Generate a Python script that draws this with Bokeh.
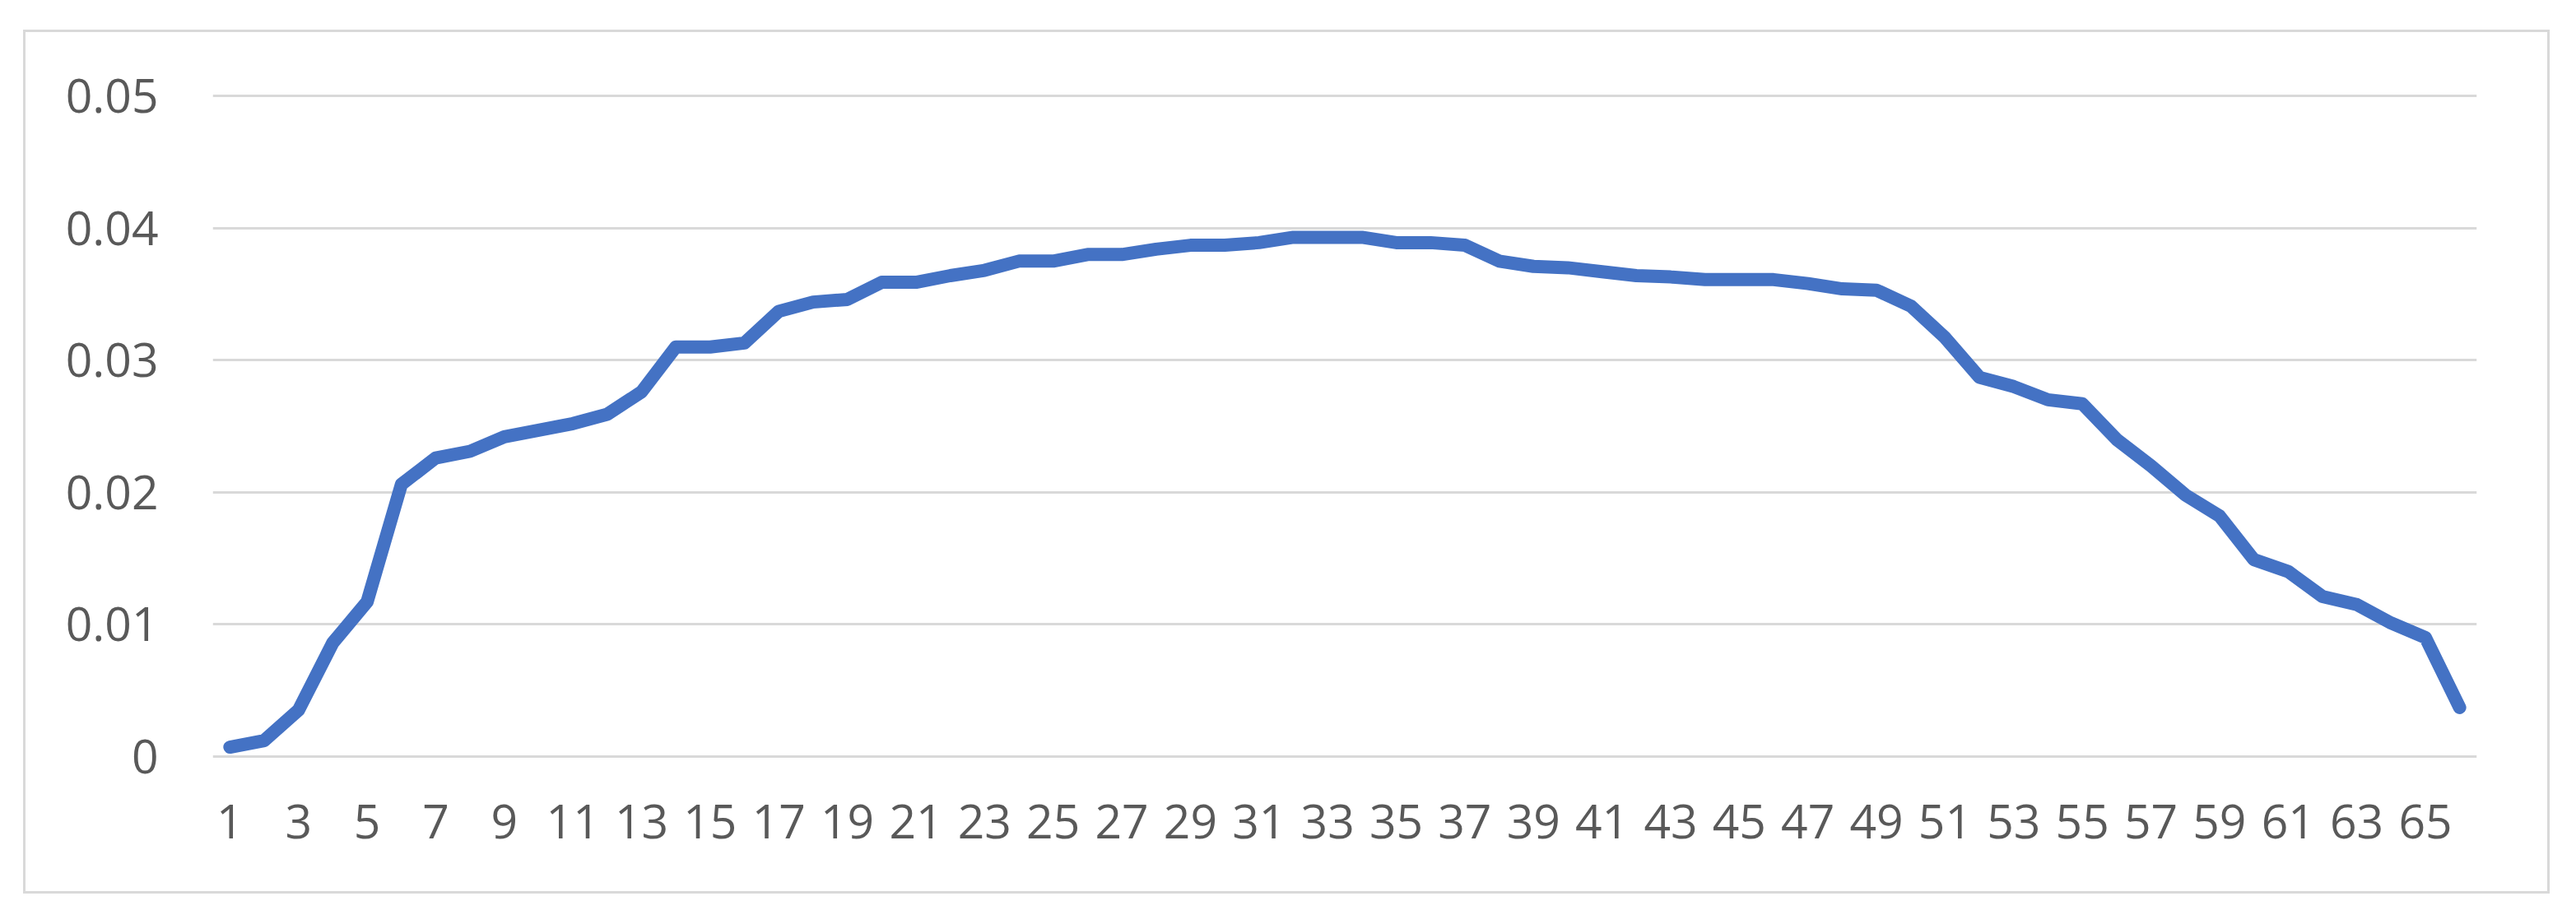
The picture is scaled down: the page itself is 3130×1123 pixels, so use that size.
from bokeh.plotting import figure
from bokeh.models import Range1d, FixedTicker
from bokeh.embed import file_html
from bokeh.resources import INLINE

categories = [str(i) for i in range(1, 67)]
values = [
    0.0007, 0.0012, 0.0035, 0.0086, 0.0117, 0.0206, 0.0226, 0.0231, 0.0242, 0.0247,
    0.0252, 0.0259, 0.0276, 0.0310, 0.0310, 0.0313, 0.0337, 0.0344, 0.0346, 0.0359,
    0.0359, 0.0364, 0.0368, 0.0375, 0.0375, 0.0380, 0.0380, 0.0384, 0.0387, 0.0387,
    0.0389, 0.0393, 0.0393, 0.0393, 0.0389, 0.0389, 0.0387, 0.0375, 0.0371, 0.0370,
    0.0367, 0.0364, 0.0363, 0.0361, 0.0361, 0.0361, 0.0358, 0.0354, 0.0353, 0.0341,
    0.0317, 0.0287, 0.0280, 0.0270, 0.0267, 0.0240, 0.0220, 0.0198, 0.0182, 0.0149,
    0.0140, 0.0121, 0.0115, 0.0101, 0.0090, 0.0037,
]
y_ticks = [0, 0.01, 0.02, 0.03, 0.04, 0.05]
y_tick_labels = ["0", "0.01", "0.02", "0.03", "0.04", "0.05"]
x_tick_labels = [c for c in categories if int(c) % 2 == 1]

x_pos = [int(c) for c in categories]
x_ticks = [int(c) for c in x_tick_labels]

FONT = "Open Sans"
TXT = "#595959"
GRID = "#D9D9D9"

pad = 0.0002
p = figure(
    width=3070, height=1050,
    x_range=Range1d(0.5, len(categories) + 0.5),
    y_range=Range1d(-pad, 0.05 + pad),
    output_backend="svg", toolbar_location=None,
    min_border_left=227, min_border_right=92,
    min_border_top=74, min_border_bottom=167,
)
p.styles = {"margin-left": "28px", "margin-top": "36px",
            "border": "3px solid #D9D9D9"}
p.outline_line_color = None
p.background_fill_color = "white"
p.border_fill_color = "white"

p.line(x=x_pos, y=values, line_color="#4472C4", line_width=16,
       line_join="round", line_cap="round")

p.xgrid.grid_line_color = None
p.ygrid.grid_line_color = GRID
p.ygrid.grid_line_width = 3
p.yaxis.ticker = FixedTicker(ticks=y_ticks)
p.yaxis.major_label_overrides = dict(zip(y_ticks, y_tick_labels))
p.xaxis.ticker = FixedTicker(ticks=x_ticks)
p.xaxis.major_label_overrides = dict(zip(x_ticks, x_tick_labels))

for ax in (p.xaxis[0], p.yaxis[0]):
    ax.axis_line_color = None
    ax.major_tick_line_color = None
    ax.minor_tick_line_color = None
    ax.major_tick_in = 0
    ax.major_tick_out = 0
    ax.major_label_text_font = FONT
    ax.major_label_text_font_size = "57px"
    ax.major_label_text_color = TXT

p.yaxis.major_label_standoff = 66
p.xaxis.major_label_standoff = 55

open("out.html", "w").write(file_html(p, INLINE))
